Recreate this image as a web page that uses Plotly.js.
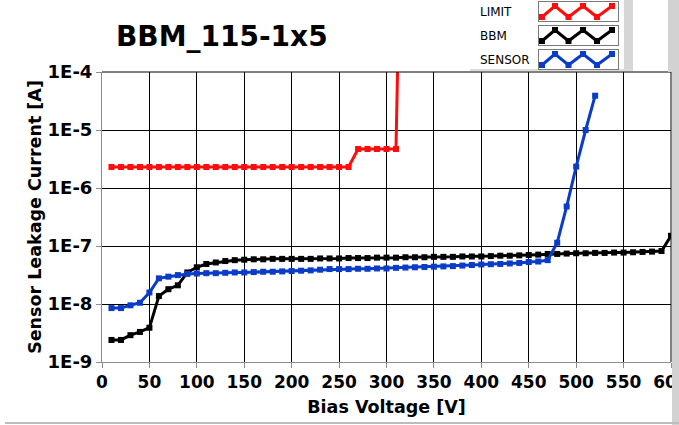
<!DOCTYPE html>
<html>
<head>
<meta charset="utf-8">
<script src="https://cdn.plot.ly/plotly-3.0.1.min.js"></script>
<style>html,body{margin:0;padding:0;background:#fff;}#chart{width:679px;height:425px;}</style>
</head>
<body>
<div id="chart"></div>
<script>
// ---- data ----
const chartTitle = "BBM_115-1x5";
const xTitle = "Bias Voltage [V]";
const yTitle = "Sensor Leakage Current [A]";
const seriesNames = ["LIMIT", "BBM", "SENSOR"];
const seriesColors = ["#ff0d0d", "#000000", "#0a3cc8"];

const xTickVals = [0,50,100,150,200,250,300,350,400,450,500,550,600];
const yTickVals = [1e-9,1e-8,1e-7,1e-6,1e-5,1e-4];
const yTickText = ["1E-9","1E-8","1E-7","1E-6","1E-5","1E-4"];

const limitVolts = [10,20,30,40,50,60,70,80,90,100,110,120,130,140,150,160,170,180,190,200,210,220,230,240,250,260,270,280,290,300,310,312];
const limitCurrent = [2.3e-6,2.3e-6,2.3e-6,2.3e-6,2.3e-6,2.3e-6,2.3e-6,2.3e-6,2.3e-6,2.3e-6,2.3e-6,2.3e-6,2.3e-6,2.3e-6,2.3e-6,2.3e-6,2.3e-6,2.3e-6,2.3e-6,2.3e-6,2.3e-6,2.3e-6,2.3e-6,2.3e-6,2.3e-6,2.3e-6,4.7e-6,4.7e-6,4.7e-6,4.7e-6,4.7e-6,2e-4];

const bbmVolts = [10,20,30,40,50,60,70,80,90,100,110,120,130,140,150,160,170,180,190,200,210,220,230,240,250,260,270,280,290,300,310,320,330,340,350,360,370,380,390,400,410,420,430,440,450,460,470,480,490,500,510,520,530,540,550,560,570,580,590,600];
const bbmCurrent = [2.4e-9,2.4e-9,2.9e-9,3.3e-9,3.9e-9,1.37e-8,1.8e-8,2.1e-8,3.5e-8,4.3e-8,4.9e-8,5.2e-8,5.5e-8,5.7e-8,5.8e-8,5.9e-8,5.9e-8,6.0e-8,6.0e-8,6.0e-8,6.0e-8,6.0e-8,6.1e-8,6.1e-8,6.1e-8,6.2e-8,6.2e-8,6.2e-8,6.3e-8,6.3e-8,6.3e-8,6.4e-8,6.4e-8,6.4e-8,6.5e-8,6.5e-8,6.5e-8,6.6e-8,6.6e-8,6.6e-8,6.7e-8,6.8e-8,6.8e-8,6.9e-8,7.0e-8,7.1e-8,7.3e-8,7.3e-8,7.4e-8,7.5e-8,7.5e-8,7.6e-8,7.6e-8,7.7e-8,7.7e-8,7.8e-8,7.9e-8,8.0e-8,8.2e-8,1.5e-7];

const sensorVolts = [10,20,30,40,50,60,70,80,90,100,110,120,130,140,150,160,170,180,190,200,210,220,230,240,250,260,270,280,290,300,310,320,330,340,350,360,370,380,390,400,410,420,430,440,450,460,470,480,490,500,510,520];
const sensorCurrent = [8.5e-9,8.5e-9,9.5e-9,1.05e-8,1.58e-8,2.77e-8,2.96e-8,3.15e-8,3.3e-8,3.35e-8,3.4e-8,3.4e-8,3.45e-8,3.5e-8,3.5e-8,3.55e-8,3.6e-8,3.6e-8,3.65e-8,3.7e-8,3.75e-8,3.8e-8,3.9e-8,4.0e-8,4.0e-8,4.0e-8,4.05e-8,4.05e-8,4.1e-8,4.1e-8,4.2e-8,4.25e-8,4.3e-8,4.35e-8,4.4e-8,4.45e-8,4.5e-8,4.6e-8,4.7e-8,4.8e-8,4.85e-8,4.9e-8,5.0e-8,5.1e-8,5.3e-8,5.4e-8,5.7e-8,1.14e-7,4.8e-7,2.34e-6,1.0e-5,3.9e-5];

// legend glyph (zig-zag sample drawn in each legend box)
const glyphX = [3,16,29.5,44,58,73];
const glyphY = [15,4,15,4,15,4];

// ---- layout helpers (figure pixels -> paper fraction) ----
const W = 679, H = 425;
const px = x => x / W;
const py = y => 1 - y / H;
const FONT = "DejaVu Sans";

const plotL = 102, plotR = 671, plotT = 72, plotB = 362;

const traces = [
  {x: limitVolts, y: limitCurrent, name: seriesNames[0], mode: "lines+markers",
   line: {color: seriesColors[0], width: 3}, marker: {symbol: "square", size: 6, color: seriesColors[0]}},
  {x: bbmVolts, y: bbmCurrent, name: seriesNames[1], mode: "lines+markers",
   line: {color: seriesColors[1], width: 3}, marker: {symbol: "square", size: 6, color: seriesColors[1]}},
  {x: sensorVolts, y: sensorCurrent, name: seriesNames[2], mode: "lines+markers",
   line: {color: seriesColors[2], width: 3}, marker: {symbol: "square", size: 6, color: seriesColors[2]}}
];

const boxTops = [2, 26, 50];
const boxH = 19, boxL = 539, boxR = 618;

const layout = {
  width: W, height: H,
  margin: {l: 0, r: 0, t: 0, b: 0},
  paper_bgcolor: "#ffffff", plot_bgcolor: "#ffffff",
  showlegend: false,
  title: {text: chartTitle, x: px(116), xanchor: "left", xref: "container",
          y: py(36), yanchor: "middle", yref: "container",
          font: {family: FONT, size: 28, weight: "bold", color: "#000"}},
  xaxis: {domain: [px(plotL), px(plotR)], range: [0, 600], tickvals: xTickVals,
          showgrid: true, gridcolor: "#000", gridwidth: 1, zeroline: false,
          showline: true, linecolor: "#8c8c8c", linewidth: 1,
          ticks: "outside", ticklen: 5, tickcolor: "#8c8c8c", ticklabeloverflow: "allow",
          tickfont: {family: FONT, size: 17, weight: "bold", color: "#000"},
          title: {text: xTitle, standoff: 9, font: {family: FONT, size: 17.5, weight: "bold", color: "#000"}}},
  yaxis: {domain: [py(plotB), py(plotT)], type: "log", range: [-9, -4],
          tickvals: yTickVals, ticktext: yTickText,
          showgrid: true, gridcolor: "#000", gridwidth: 1, zeroline: false,
          showline: true, linecolor: "#8c8c8c", linewidth: 1,
          ticks: "outside", ticklen: 5, tickcolor: "#8c8c8c", ticklabeloverflow: "allow",
          tickfont: {family: FONT, size: 18, weight: "bold", color: "#000"},
          title: {text: yTitle, standoff: 1, font: {family: FONT, size: 17.5, weight: "bold", color: "#000"}}},
  shapes: [
    // top and right frame
    {type: "line", xref: "paper", yref: "paper", x0: px(plotL), x1: px(plotR), y0: py(plotT), y1: py(plotT), line: {color: "#000", width: 1}},
    {type: "line", xref: "paper", yref: "paper", x0: px(plotR), x1: px(plotR), y0: py(plotB), y1: py(plotT), line: {color: "#000", width: 1}},
    // legend panel shadow
    {type: "rect", xref: "paper", yref: "paper", x0: px(624), x1: px(633), y0: py(70), y1: py(0), line: {width: 0}, fillcolor: "#d6d6d6", layer: "below"},
    {type: "rect", xref: "paper", yref: "paper", x0: px(470), x1: px(633), y0: py(71), y1: py(69), line: {width: 0}, fillcolor: "#dcdcdc", layer: "below"},
    // right window strip
    {type: "rect", xref: "paper", yref: "paper", x0: px(668), x1: px(679), y0: py(72), y1: py(0), line: {width: 0}, fillcolor: "#d2d2d2", layer: "above"},
    {type: "rect", xref: "paper", yref: "paper", x0: px(672), x1: px(679), y0: py(425), y1: py(72), line: {width: 0}, fillcolor: "#d2d2d2", layer: "above"},
    // bottom window edge
    {type: "line", xref: "paper", yref: "paper", x0: px(5), x1: px(679), y0: py(423), y1: py(423), line: {color: "#bdbdbd", width: 2}}
  ],
  annotations: []
};

// legend: labels + boxed zig-zag samples on small dedicated axes
seriesNames.forEach((name, i) => {
  const n = i + 2;
  const top = boxTops[i];
  layout["xaxis" + n] = {domain: [px(boxL), px(boxR)], range: [0, 79], anchor: "y" + n,
    showgrid: false, zeroline: false, showticklabels: false, ticks: "",
    showline: true, mirror: true, linecolor: "#7a7a7a", linewidth: 1, fixedrange: true};
  layout["yaxis" + n] = {domain: [py(top + boxH), py(top)], range: [19, 0], anchor: "x" + n,
    showgrid: false, zeroline: false, showticklabels: false, ticks: "",
    showline: true, mirror: true, linecolor: "#7a7a7a", linewidth: 1, fixedrange: true};
  traces.push({x: glyphX, y: glyphY, xaxis: "x" + n, yaxis: "y" + n, mode: "lines+markers",
    hoverinfo: "skip", line: {color: seriesColors[i], width: 3},
    marker: {symbol: "square", size: 6, color: seriesColors[i]}});
  layout.annotations.push({text: name, xref: "paper", yref: "paper", x: px(478), xanchor: "left",
    y: py(top + 10), yanchor: "middle", showarrow: false,
    font: {family: FONT, size: 12, color: "#000"}});
});

Plotly.newPlot("chart", traces, layout, {displayModeBar: false, staticPlot: true});
</script>
</body>
</html>
